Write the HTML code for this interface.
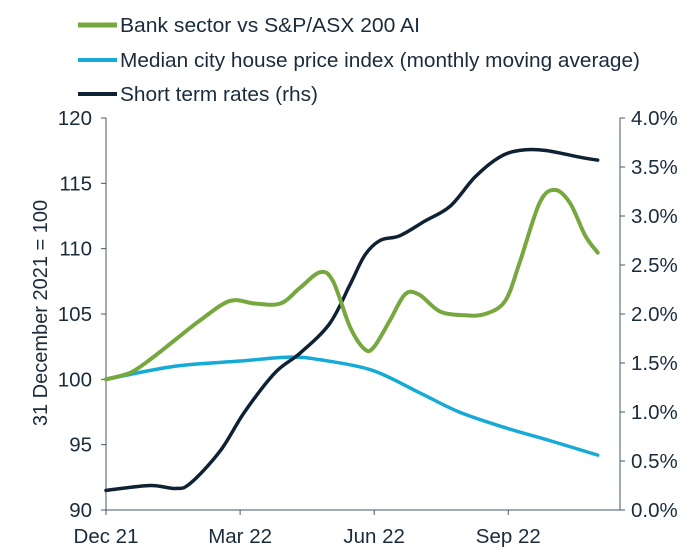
<!DOCTYPE html>
<html><head><meta charset="utf-8">
<style>
body{margin:0;background:#fff;}
svg{display:block;font-family:"Liberation Sans",Arial,sans-serif;fill:#1a2b3c;}
</style></head>
<body>
<svg id="chart" width="698" height="558" viewBox="0 0 698 558">
<g id="legend">
 <g><line x1="78" y1="25" x2="117" y2="25" stroke="#77a83f" stroke-width="5"/><text x="120" y="32" font-size="20.5" textLength="300" lengthAdjust="spacingAndGlyphs" fill="#1a2b3c">Bank sector vs S&amp;P/ASX 200 AI</text></g>
 <g><line x1="78" y1="60" x2="117" y2="60" stroke="#16aad6" stroke-width="4"/><text x="120" y="67" font-size="20.5" textLength="520" lengthAdjust="spacingAndGlyphs" fill="#1a2b3c">Median city house price index (monthly moving average)</text></g>
 <g><line x1="78" y1="94" x2="117" y2="94" stroke="#0f2233" stroke-width="4"/><text x="120" y="101" font-size="20.5" textLength="198" lengthAdjust="spacingAndGlyphs" fill="#1a2b3c">Short term rates (rhs)</text></g>
</g>
<g id="axes"></g>
<g id="series"></g>
<text transform="translate(47,313) rotate(-90)" text-anchor="middle" font-size="20" fill="#1a2b3c">31 December 2021 = 100</text>
</svg>
<script>
const xTickLabels=["Dec 21","Mar 22","Jun 22","Sep 22"];
const xTickMonths=[0,3,6,9];
const leftTicks=[90,95,100,105,110,115,120];
const rightTicks=[0,0.5,1,1.5,2,2.5,3,3.5,4];
const bankT=[0,0.54,0.98,1.54,2.1,2.77,3.33,3.9,4.34,4.79,5.08,5.46,5.79,6.0,6.35,6.69,7.0,7.47,8.03,8.48,8.93,9.26,9.7,10.04,10.38,10.72,11.0];
const bankV=[100,100.5,101.5,103,104.5,106,105.8,105.8,107,108.2,107.5,104,102.3,102.5,104.5,106.5,106.5,105.2,104.9,105,106,109,113.5,114.5,113.5,111,109.7];
const houseT=[0,1.54,3.0,4.1,4.79,5.95,7.0,7.9,8.93,9.94,11.0];
const houseV=[100,101,101.4,101.7,101.5,100.7,99,97.5,96.3,95.3,94.2];
const rateT=[0,0.98,1.54,1.88,2.55,3.1,3.78,4.34,5.0,5.46,5.79,6.13,6.58,7.14,7.7,8.26,8.8,9.26,9.82,10.6,11.0];
const rateV=[0.2,0.25,0.22,0.27,0.6,1.0,1.4,1.6,1.9,2.3,2.6,2.75,2.8,2.95,3.1,3.4,3.6,3.67,3.67,3.6,3.57];

const X0=106,X1=620,MW=44.7,YT=118,YB=510;
const xs=m=>X0+m*MW;
const yL=v=>YB-(v-90)/30*(YB-YT);
const yR=v=>YB-v/4*(YB-YT);
const NS="http://www.w3.org/2000/svg";
function mk(tag,attrs,parent){const e=document.createElementNS(NS,tag);for(const k in attrs)e.setAttribute(k,attrs[k]);parent.appendChild(e);return e;}
const axes=document.getElementById('axes'),series=document.getElementById('series');
const ac="#44556a";
let l=mk('line',{x1:X0,y1:YT,x2:X0,y2:YB,stroke:ac,'stroke-width':1},axes);


l=mk('line',{x1:X1,y1:YT,x2:X1,y2:YB,stroke:ac,'stroke-width':1},axes);


l=mk('line',{x1:X0,y1:YB,x2:X1,y2:YB,stroke:ac,'stroke-width':1},axes);


leftTicks.forEach(v=>{const y=yL(v);mk('line',{x1:X0-5,y1:y,x2:X0,y2:y,stroke:ac},axes);
 const t=mk('text',{x:X0-14,y:y+7,'text-anchor':'end','font-size':20.5},axes);t.textContent=v;
 
 });
rightTicks.forEach(v=>{const y=yR(v);mk('line',{x1:X1,y1:y,x2:X1+5,y2:y,stroke:ac},axes);
 const t=mk('text',{x:X1+11,y:y+7,'font-size':20.5},axes);t.textContent=v.toFixed(1)+'%';
 
 });
xTickMonths.forEach((m,i)=>{const x=xs(m);mk('line',{x1:x,y1:YB,x2:x,y2:YB+5,stroke:ac},axes);
 const t=mk('text',{x:x,y:YB+33,'text-anchor':'middle','font-size':20.5},axes);t.textContent=xTickLabels[i];
 
 });
function path(T,V,yf){const p=T.map((t,i)=>[xs(t),yf(V[i])]);let d='M'+p[0][0]+','+p[0][1];
 for(let i=0;i<p.length-1;i++){const a=p[Math.max(0,i-1)],b=p[i],c=p[i+1],e=p[Math.min(p.length-1,i+2)];const k=1/6;
 d+=' C'+(b[0]+(c[0]-a[0])*k)+','+(b[1]+(c[1]-a[1])*k)+' '+(c[0]-(e[0]-b[0])*k)+','+(c[1]-(e[1]-b[1])*k)+' '+c[0]+','+c[1];}
 return d;}
let s=mk('path',{d:path(houseT,houseV,yL),fill:'none',stroke:'#16aad6','stroke-width':3.5,'stroke-linecap':'round'},series);


s=mk('path',{d:path(rateT,rateV,yR),fill:'none',stroke:'#0f2233','stroke-width':3.5,'stroke-linecap':'round'},series);


s=mk('path',{d:path(bankT,bankV,yL),fill:'none',stroke:'#77a83f','stroke-width':4,'stroke-linecap':'round'},series);


</script>
</body></html>
